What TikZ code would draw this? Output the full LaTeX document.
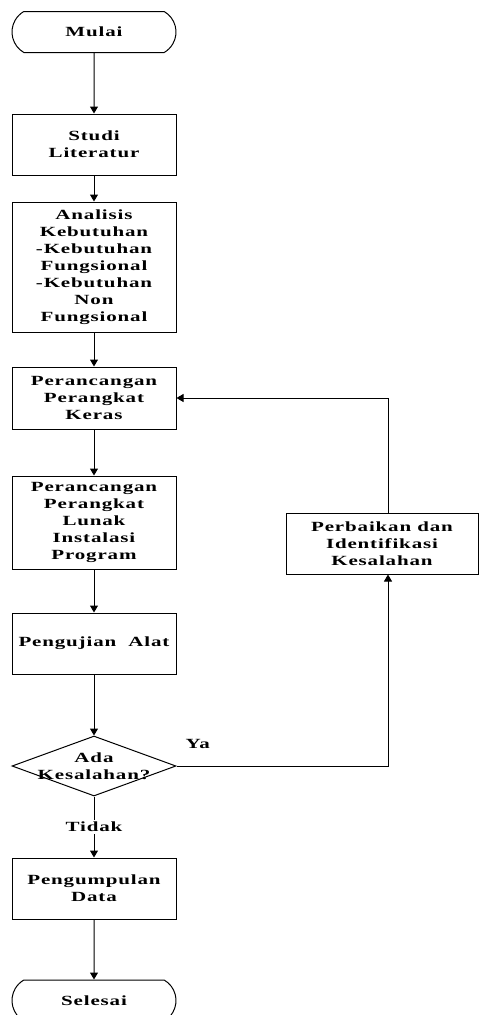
\documentclass[tikz,border=0pt]{standalone}
\usepackage{fontspec}
\setmainfont{Liberation Serif}
\newfontfamily\chartfont[FakeStretch=1.5,LetterSpace=6]{Liberation Serif Bold}
\usepackage{tikz}
\usetikzlibrary{arrows.meta, shapes.geometric, shapes.misc}

\begin{document}
\begin{tikzpicture}[x=1pt, y=-1pt, line width=1pt,
		font=\fontsize{14}{17}\chartfont,
		proses/.style={draw, rectangle, minimum width=164pt, align=center, inner sep=0pt},
		terminal/.style={draw, rounded rectangle, rounded rectangle arc length=120,
			minimum width=164pt, minimum height=41pt, inner sep=0pt},
		keputusan/.style={draw, diamond, minimum width=164pt, minimum height=60pt, inner sep=0pt},
		panah/.style={-{Triangle[width=8pt,length=7pt]}}]
				\useasboundingbox (0,0) rectangle (479,1015);

				\node[terminal] (mulai) at (94, 32) {Mulai};
				\node[proses, minimum height=61pt] (studi) at (94, 144.5) {Studi\\Literatur};
				\node[proses, minimum height=130pt] (analisis) at (94, 267)
					{Analisis\\Kebutuhan\\-Kebutuhan\\Fungsional\\-Kebutuhan\\Non\\Fungsional};
				\node[proses, minimum height=62pt] (keras) at (94, 398) {Perancangan\\Perangkat\\Keras};
				\node[proses, minimum height=93pt] (lunak) at (94, 522.5)
					{Perancangan\\Perangkat\\Lunak\\Instalasi\\Program};
				\node[proses, minimum height=61pt] (uji) at (94, 643.5) {Pengujian\ \ Alat};
				\node[keputusan] (cek) at (94, 766) {};
				\node[align=center, inner sep=0pt] (cektext) at (cek) {Ada\\Kesalahan?};
				\node[proses, minimum height=61pt] (data) at (94, 888.5) {Pengumpulan\\Data};
				\node[terminal] (selesai) at (94, 1000.5) {Selesai};

				\node[proses, minimum width=192pt, minimum height=61pt] (perbaikan) at (382, 543.5)
					{Perbaikan dan\\Identifikasi\\Kesalahan};

				\draw[panah] (mulai) -- (studi);
				\draw[panah] (studi) -- (analisis);
				\draw[panah] (analisis) -- (keras);
				\draw[panah] (keras) -- (lunak);
				\draw[panah] (lunak) -- (uji);
				\draw[panah] (uji) -- (cek);
				\draw[panah] (cek) -- node[fill=white, inner sep=2pt] (tidak) {Tidak} (data);
				\draw[panah] (data) -- (selesai);

				\draw[panah] (cek.east) -| node[pos=0.05, yshift=22pt] (ya) {Ya} ([xshift=6pt]perbaikan.south);
				\draw[panah] ([xshift=6pt]perbaikan.north) |- (keras.east);
			\end{tikzpicture}
\end{document}
